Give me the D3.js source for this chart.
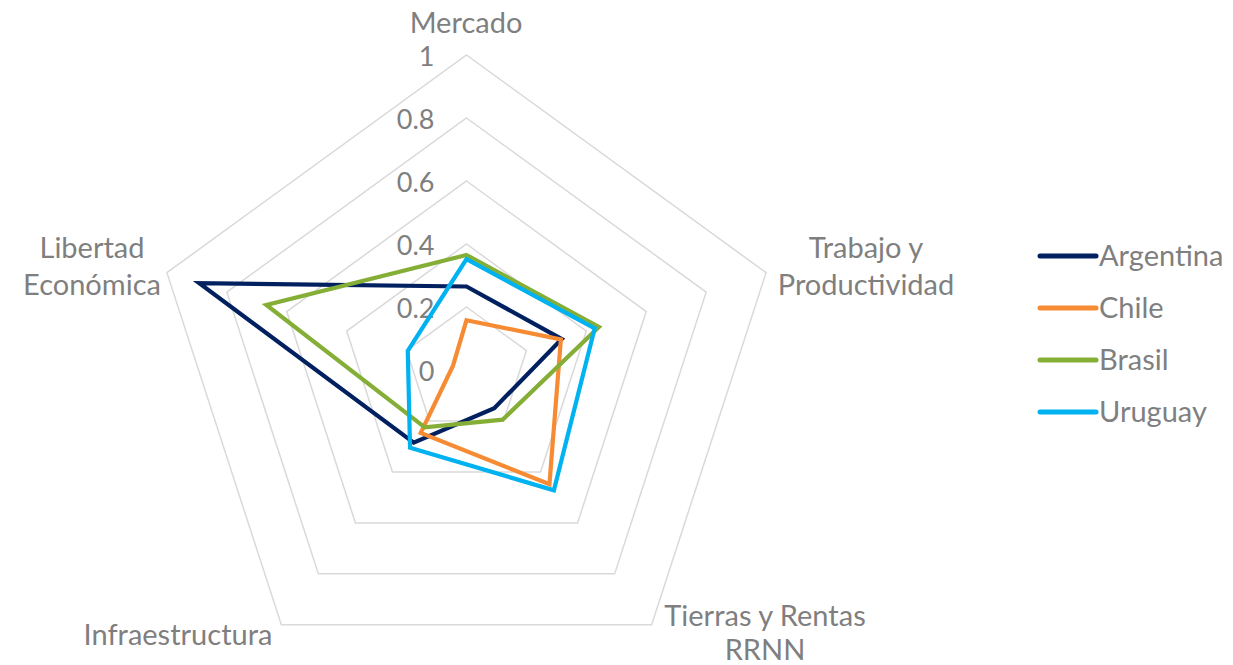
<!DOCTYPE html>
<html>
<head>
<meta charset="utf-8">
<script src="https://cdn.jsdelivr.net/npm/d3@7"></script>
<style>
  html, body { margin: 0; padding: 0; background: #ffffff; }
  svg { display: block; }
  text { font-family: Lato, "Open Sans", sans-serif; fill: #7f7f7f; }
</style>
</head>
<body>
<svg id="chart" width="1233" height="665"></svg>
<script>
// ---- data ----
const categories = ["Mercado", "Trabajo y\nProductividad", "Tierras y Rentas\nRRNN", "Infraestructura", "Libertad\nEconómica"];
const seriesNames = ["Argentina", "Chile", "Brasil", "Uruguay"];
const argentina = [0.265, 0.318, 0.150, 0.285, 0.892];
const chile     = [0.158, 0.315, 0.448, 0.247, 0.045];
const brasil    = [0.365, 0.442, 0.195, 0.225, 0.668];
const uruguay   = [0.352, 0.428, 0.472, 0.305, 0.196];
const tickValues = [0, 0.2, 0.4, 0.6, 0.8, 1];
const tickLabels = ["0", "0.2", "0.4", "0.6", "0.8", "1"];
const colors = ["#002060", "#F68B33", "#84AE36", "#00B2EF"];

const seriesValues = [argentina, chile, brasil, uruguay];

// ---- layout ----
const svg = d3.select("#chart");
const cx = 466.5, cy = 370, R = 315;
const r = d3.scaleLinear().domain([0, 1]).range([0, R]);
const angle = d3.scalePoint().domain(d3.range(categories.length)).range([0, 2 * Math.PI * (categories.length - 1) / categories.length]);

const g = svg.append("g").attr("transform", `translate(${cx},${cy})`);

// grid pentagons
const gridLine = d3.lineRadial()
  .angle((d, i) => angle(i))
  .radius(d => r(d))
  .curve(d3.curveLinearClosed);

tickValues.filter(v => v > 0).forEach(v => {
  g.append("path")
    .attr("d", gridLine(categories.map(() => v)))
    .attr("fill", "none")
    .attr("stroke", "#d9d9d9")
    .attr("stroke-width", 1.5);
});

// tick labels
g.selectAll("text.tick")
  .data(tickValues)
  .enter().append("text")
  .attr("class", "tick")
  .attr("x", -32)
  .attr("y", d => -r(d) + 11)
  .attr("text-anchor", "end")
  .style("font-size", "27px")
  .text((d, i) => tickLabels[i]);

// series
const seriesLine = d3.lineRadial()
  .angle((d, i) => angle(i))
  .radius(d => r(d))
  .curve(d3.curveLinearClosed);

seriesValues.forEach((vals, si) => {
  g.append("path")
    .attr("d", seriesLine(vals))
    .attr("fill", "none")
    .attr("stroke", colors[si])
    .attr("stroke-width", 4.2)
    .attr("stroke-linejoin", "miter");
});

// category labels
const labelPos = [
  { x: 466, y: 33, dy: 37 },
  { x: 866, y: 258, dy: 37 },
  { x: 765, y: 626, dy: 34 },
  { x: 178, y: 645, dy: 37 },
  { x: 92, y: 258, dy: 37 }
];
categories.forEach((c, i) => {
  const lines = c.split("\n");
  const t = svg.append("text")
    .attr("text-anchor", "middle")
    .style("font-size", "29px");
  lines.forEach((ln, j) => {
    t.append("tspan")
      .attr("x", labelPos[i].x)
      .attr("y", labelPos[i].y + j * labelPos[i].dy)
      .text(ln);
  });
});

// legend
const legend = svg.append("g").attr("transform", "translate(1040,256)");
seriesNames.forEach((name, i) => {
  const row = legend.append("g").attr("transform", `translate(0,${i * 52})`);
  row.append("line")
    .attr("x1", 0).attr("x2", 56).attr("y1", 0).attr("y2", 0)
    .attr("stroke", colors[i])
    .attr("stroke-width", 5)
    .attr("stroke-linecap", "round");
  row.append("text")
    .attr("x", 59).attr("y", 10)
    .style("font-size", "29px")
    .text(name);
});
</script>
</body>
</html>
